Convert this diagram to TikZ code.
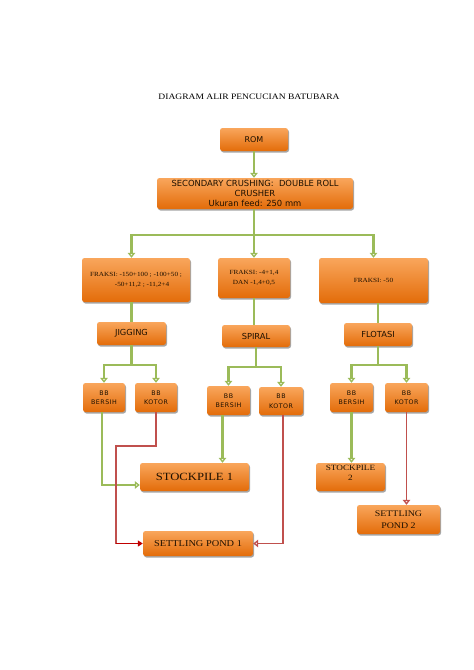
\documentclass[tikz,border=0pt]{standalone}
\usepackage{fontspec}
\setmainfont{Liberation Serif}
\newfontfamily\wserif[FakeStretch=1.15]{Liberation Serif}
\newfontfamily\dvs{DejaVu Sans}
\newfontfamily\dvsw[LetterSpace=8]{DejaVu Sans}
\usetikzlibrary{arrows.meta,shadows}
\definecolor{ogtop}{HTML}{F9A65C}
\definecolor{ogbot}{HTML}{E36C09}
\definecolor{gline}{HTML}{9BBB59}
\definecolor{rline}{HTML}{C0504D}
\definecolor{dred}{HTML}{C00000}
\definecolor{txt}{HTML}{1E1000}
\tikzset{
  box/.style={rounded corners=2.5pt, top color=ogtop, bottom color=ogbot, draw=none,
    drop shadow={shadow xshift=1pt, shadow yshift=-1.5pt, opacity=0.35, fill=black},
    inner sep=1pt, align=center, text=txt},
  bb/.style={box, font=\dvsw\fontsize{6.3}{9.5}\selectfont},
  gl/.style={draw=gline, line width=2.2pt},
  ga/.style={gl, -{Triangle[open, length=5pt, width=7.5pt]}},
  rl/.style={draw=rline, line width=1.8pt},
  ra/.style={rl, -{Triangle[open, length=5pt, width=7.5pt]}},
  da/.style={draw=dred, line width=1.8pt, -{Triangle[length=5pt, width=6pt]}},
}
\begin{document}
\begin{tikzpicture}[x=1pt,y=-1pt]
\useasboundingbox (0,0) rectangle (474,670);
\node[font=\wserif\fontsize{8.3}{10}\selectfont, text=black] (title) at (249,97) {DIAGRAM ALIR PENCUCIAN BATUBARA};

\node[box, font=\dvs\fontsize{8}{10}\selectfont, minimum width=68, minimum height=23] (rom) at (254,139.5) {ROM};
\node[box, font=\dvs\fontsize{8.4}{10.3}\selectfont, minimum width=196, minimum height=31] (sec) at (255,193.5) {SECONDARY CRUSHING:\ \ DOUBLE ROLL\\CRUSHER\\Ukuran feed: 250 mm};

\node[box, font=\wserif\fontsize{6.3}{10}\selectfont, minimum width=108, minimum height=44] (f1) at (136,280) {FRAKSI:\ -150+100 ;\ -100+50 ;\\\hspace*{12pt}-50+11,2 ;\ -11,2+4};
\node[box, font=\wserif\fontsize{6.3}{10}\selectfont, minimum width=72, minimum height=40] (f2) at (254,278) {FRAKSI:\ -4+1,4\\DAN -1,4+0,5};
\node[box, font=\wserif\fontsize{6.3}{8}\selectfont, minimum width=109, minimum height=45] (f3) at (373.5,280.5) {FRAKSI: -50};

\node[box, font=\dvs\fontsize{8.3}{10}\selectfont, minimum width=69, minimum height=23] (jig) at (131.5,333.5) {JIGGING};
\node[box, font=\dvs\fontsize{8.3}{10}\selectfont, minimum width=68, minimum height=22] (spi) at (256,336) {SPIRAL};
\node[box, font=\dvs\fontsize{8.3}{10}\selectfont, minimum width=68, minimum height=23] (flo) at (378,334.5) {FLOTASI};

\node[bb, minimum width=42, minimum height=29] (b1) at (104,397.5) {BB\\BERSIH};
\node[bb, minimum width=42, minimum height=29] (k1) at (156,397.5) {BB\\KOTOR};
\node[bb, minimum width=43, minimum height=29] (b2) at (228.5,400.5) {BB\\BERSIH};
\node[bb, minimum width=44, minimum height=28] (k2) at (281,401) {BB\\KOTOR};
\node[bb, minimum width=43, minimum height=29] (b3) at (351.5,397.5) {BB\\BERSIH};
\node[bb, minimum width=43, minimum height=29] (k3) at (406.5,397.5) {BB\\KOTOR};

\node[box, font=\wserif\fontsize{11}{13}\selectfont, minimum width=109, minimum height=28] (sp1) at (194.5,477) {STOCKPILE 1};
\node[box, font=\wserif\fontsize{9}{11}\selectfont, minimum width=110, minimum height=25] (set1) at (198,543.5) {SETTLING POND 1};
\node[box, font=\wserif\fontsize{8}{10.5}\selectfont, minimum width=69, minimum height=28] (sp2) at (350.5,477) {STOCKPILE\\2\\[-2pt]\mbox{}};
\node[box, font=\wserif\fontsize{8.6}{11.5}\selectfont, minimum width=83, minimum height=29] (set2) at (398.5,519.5) {SETTLING\\POND 2};

% top
\draw[ga] (rom.south) -- (rom.south |- sec.north);
\coordinate (j1) at (254,235);
\draw[gl] (j1 |- sec.south) -- (j1);
\draw[gl] ([xshift=-1.1pt]jig.north |- j1) -- ([xshift=1.1pt]f3.north |- j1);
\draw[ga] (jig.north |- j1) -- (jig.north |- f1.north);
\draw[ga] (j1) -- (j1 |- f2.north);
\draw[ga] (f3.north |- j1) -- (f3.north);

% to processes
\draw[gl] (jig.north |- f1.south) -- (jig.north);
\draw[gl] (f2.south) -- (f2.south |- spi.north);
\draw[gl] (flo.north |- f3.south) -- (flo.north);

% splits
\coordinate (s1) at (131.5,365);
\draw[gl] (jig.south) -- (s1);
\draw[gl] ([xshift=-1.1pt]b1.north |- s1) -- ([xshift=1.1pt]k1.north |- s1);
\draw[ga] (b1.north |- s1) -- (b1.north);
\draw[ga] (k1.north |- s1) -- (k1.north);

\coordinate (s2) at (256,367);
\draw[gl] (spi.south) -- (s2);
\draw[gl] ([xshift=-1.1pt]b2.north |- s2) -- ([xshift=1.1pt]k2.north |- s2);
\draw[ga] (b2.north |- s2) -- (b2.north);
\draw[ga] (k2.north |- s2) -- (k2.north);

\coordinate (s3) at (378,365);
\draw[gl] (flo.south) -- (s3);
\draw[gl] ([xshift=-1.1pt]b3.north |- s3) -- ([xshift=1.1pt]k3.north |- s3);
\draw[ga] (b3.north |- s3) -- (b3.north);
\draw[ga] (k3.north |- s3) -- (k3.north);

% bottom
\draw[ga] ([xshift=-2pt]b1.south) |- ([yshift=-8pt]sp1.west);
\coordinate (c1) at (116,446);
\draw[rl] (k1.south) |- (c1) -- (c1 |- set1.west);
\draw[da] (c1 |- set1.west) -- (set1.west);
\draw[ga] ([xshift=-6pt]b2.south) -- ([xshift=-6pt]b2.south |- sp1.north);
\draw[ra] ([xshift=2pt]k2.south) |- (set1.east);
\draw[ga] (b3.south) -- (b3.south |- sp2.north);
\draw[ra] (k3.south) -- (k3.south |- set2.north);
\end{tikzpicture}
\end{document}
